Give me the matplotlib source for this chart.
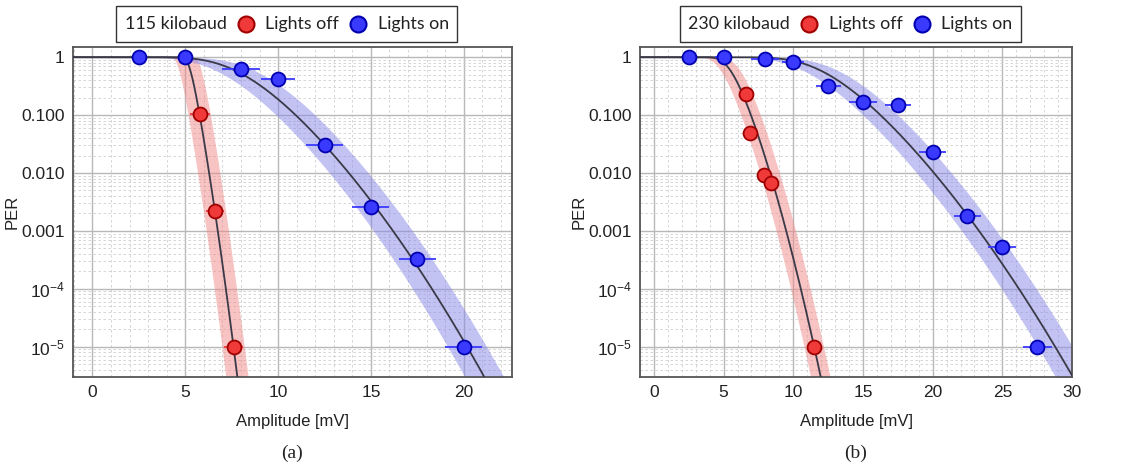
import math
import numpy as np
import matplotlib
matplotlib.use("Agg")
import matplotlib.pyplot as plt
from matplotlib.lines import Line2D
from matplotlib.offsetbox import TextArea, DrawingArea, HPacker, AnchoredOffsetbox
from matplotlib.ticker import FixedLocator, FixedFormatter, MultipleLocator, LogLocator, NullFormatter

plt.rcParams['font.family'] = ['Liberation Sans', 'DejaVu Sans']
plt.rcParams['mathtext.fontset'] = 'custom'
plt.rcParams['mathtext.rm'] = 'Liberation Sans'
plt.rcParams['mathtext.it'] = 'Liberation Sans:italic'
plt.rcParams['mathtext.default'] = 'regular'

# ---------------- data ----------------
# (a) 115 kilobaud
a_off_x = [5.8, 6.6, 7.6]
a_off_per = [0.105, 0.0022, 1e-5]
a_off_xerr = [0.55, 0.5, 0.5]
a_on_x = [2.5, 5.0, 8.0, 10.0, 12.5, 15.0, 17.5, 20.0]
a_on_per = [1.0, 1.0, 0.63, 0.42, 0.031, 0.0026, 3.3e-4, 1e-5]
a_on_xerr = [0.3, 0.3, 1.0, 0.9, 1.0, 1.0, 1.0, 1.0]

# (b) 230 kilobaud
b_off_x = [6.6, 6.9, 7.9, 8.4, 11.5]
b_off_per = [0.23, 0.049, 0.0093, 0.0067, 1e-5]
b_off_xerr = [0.3, 0.3, 0.3, 0.3, 0.3]
b_on_x = [2.5, 5.0, 8.0, 10.0, 12.5, 15.0, 17.5, 20.0, 22.5, 25.0, 27.5]
b_on_per = [1.0, 1.0, 0.92, 0.82, 0.32, 0.17, 0.15, 0.023, 0.0018, 5.3e-4, 1e-5]
b_on_xerr = [0.4, 0.6, 1.0, 0.8, 0.9, 1.0, 0.95, 0.95, 1.0, 1.0, 1.05]

# fit parameters: (noise sigma [mV], bits per packet, band half-width [mV])
a_off_fit = (1.164, 3e5, 0.6)
a_on_fit = (4.06, 30, 1.05)
b_off_fit = (2.18, 150, 0.7)
b_on_fit = (5.68, 50, 1.25)

legend_titles = ["115 kilobaud", "230 kilobaud"]
series_labels = ["Lights off", "Lights on"]
captions = ["(a)", "(b)"]
xlims = [(-1.05, 22.6), (-1.0, 30.0)]
ylim = (3.0e-6, 1.5)
ytick_vals = [1, 0.1, 0.01, 0.001, 1e-4, 1e-5]
ytick_labels = ["1", "0.100", "0.010", "0.001", r"$10^{-4}$", r"$10^{-5}$"]

# ---------------- style ----------------
RED_FACE, RED_EDGE, RED_BAND = "#f03a3a", "#a00000", "#f08888"
BLUE_FACE, BLUE_EDGE, BLUE_BAND = "#3a3aff", "#0000b0", "#8888e8"
FIT_COLOR = "#3a3a48"


def per_model(x, sigma, nbits):
    z = np.asarray(x, dtype=float) / sigma
    q = 0.5 * np.array([math.erfc(v / math.sqrt(2.0)) for v in z])
    q = np.clip(q, 0.0, 1 - 1e-15)
    return -np.expm1(nbits * np.log1p(-q))


W, H = 1124, 466
fig = plt.figure(figsize=(W / 100, H / 100), dpi=100)

axes_px = [(73, 512), (640, 1072)]
top_px, bot_px = 47, 377

panels = [
    (a_off_x, a_off_per, a_off_xerr, a_off_fit, a_on_x, a_on_per, a_on_xerr, a_on_fit),
    (b_off_x, b_off_per, b_off_xerr, b_off_fit, b_on_x, b_on_per, b_on_xerr, b_on_fit),
]

for i, (ox, oy, oe, ofit, nx, ny, ne, nfit) in enumerate(panels):
    l, r = axes_px[i]
    ax = fig.add_axes([l / W, (H - bot_px) / H, (r - l) / W, (bot_px - top_px) / H])
    ax.set_yscale('log')
    ax.set_xlim(*xlims[i])
    ax.set_ylim(*ylim)

    # grid
    ax.xaxis.set_major_locator(MultipleLocator(5))
    ax.xaxis.set_minor_locator(MultipleLocator(1))
    ax.yaxis.set_major_locator(FixedLocator(ytick_vals))
    ax.yaxis.set_major_formatter(FixedFormatter(ytick_labels))
    ax.yaxis.set_minor_locator(LogLocator(base=10, subs=np.arange(2, 10), numticks=20))
    ax.yaxis.set_minor_formatter(NullFormatter())
    ax.grid(which='major', color='#b8b8b8', lw=1.0, zorder=0)
    ax.grid(which='minor', color='#cfcfcf', lw=0.6, ls=(0, (3, 3)), zorder=0)
    ax.set_axisbelow(True)
    ax.tick_params(which='both', length=0, labelsize=12.5, pad=6, colors='#222222')
    for s in ax.spines.values():
        s.set_color('#555555')
        s.set_linewidth(1.3)

    xx = np.linspace(xlims[i][0], xlims[i][1], 1200)
    for fit, band in ((ofit, RED_BAND), (nfit, BLUE_BAND)):
        sig, nb, d = fit
        ax.fill_between(xx, per_model(xx + d, sig, nb), per_model(xx - d, sig, nb),
                        color=band, alpha=0.5, lw=0, zorder=2)
        ax.plot(xx, per_model(xx, sig, nb), color=FIT_COLOR, lw=1.3, zorder=3)

    ax.errorbar(ox, oy, xerr=oe, fmt='o', ms=10, mfc=RED_FACE, mec=RED_EDGE, mew=1.3,
                ecolor=RED_FACE, elinewidth=1.3, capsize=0, zorder=5)
    ax.errorbar(nx, ny, xerr=ne, fmt='o', ms=10, mfc=BLUE_FACE, mec=BLUE_EDGE, mew=1.3,
                ecolor=BLUE_FACE, elinewidth=1.3, capsize=0, zorder=4)

    ax.set_xlabel("Amplitude [mV]", fontsize=12, color='#222222', labelpad=10)
    ax.set_ylabel("PER", fontsize=12, color='#222222', labelpad=1)

    # legend box
    lf = dict(fontfamily=['Lato', 'DejaVu Sans'], fontsize=12.8, color='#222222')
    items = [TextArea(legend_titles[i], textprops=lf)]
    for lab, fc, ec in ((series_labels[0], RED_FACE, RED_EDGE), (series_labels[1], BLUE_FACE, BLUE_EDGE)):
        da = DrawingArea(14, 14, 0, 0)
        da.add_artist(Line2D([7], [7], marker='o', ms=11.5, mfc=fc, mec=ec, mew=1.5, ls='none'))
        items.append(da)
        items.append(TextArea(lab, textprops=lf))
    pack = HPacker(children=items, align='center', pad=0, sep=7)
    box = AnchoredOffsetbox(loc='lower center', child=pack, pad=0.6, borderpad=0,
                            frameon=True, bbox_to_anchor=(0.487, 1.015),
                            bbox_transform=ax.transAxes)
    box.patch.set_edgecolor('#333333')
    box.patch.set_linewidth(1.0)
    box.patch.set_boxstyle('square', pad=0)
    ax.add_artist(box)

    cx = (l + r) / 2 / W
    fig.text(cx, 1 - 453 / H, captions[i], ha='center', va='center',
             fontsize=14, family=['Liberation Serif', 'DejaVu Serif'], color='#222222')

fig.savefig("out.png", dpi=100)
